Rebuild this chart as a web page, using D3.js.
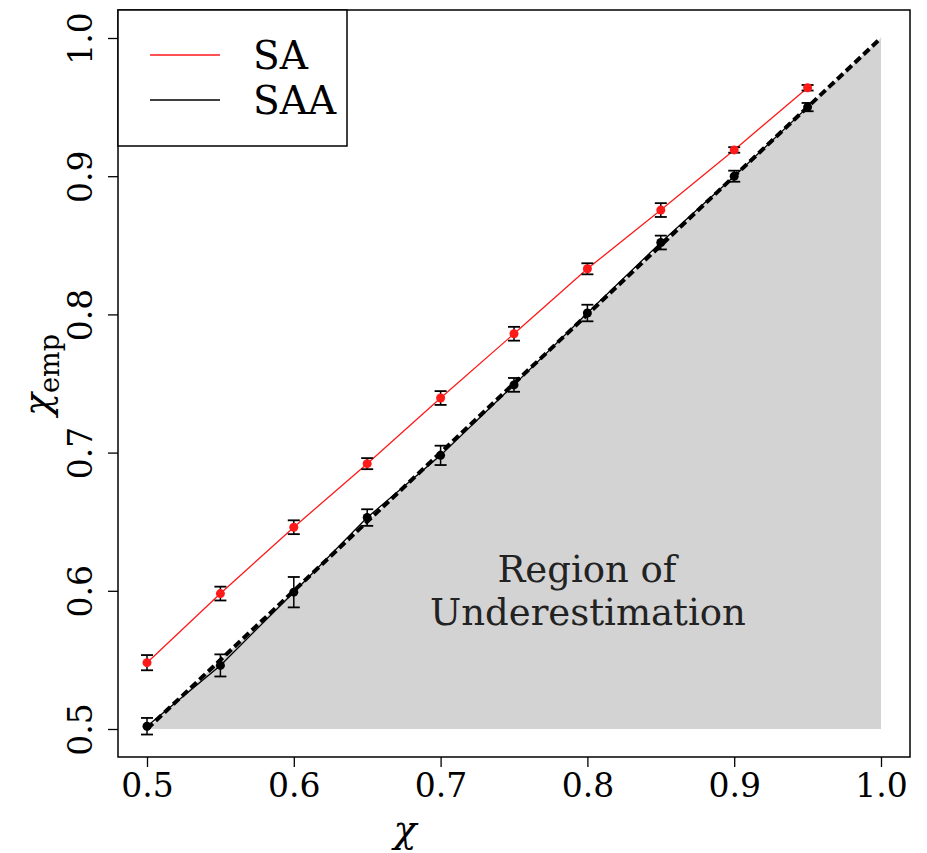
<!DOCTYPE html>
<html><head><meta charset="utf-8">
<script src="https://cdn.jsdelivr.net/npm/d3@7"></script>
<style>body{margin:0;background:#fff}</style>
</head><body>
<svg id="chart" width="927" height="853"></svg>
<script>
const chi = [0.5,0.55,0.6,0.65,0.7,0.75,0.8,0.85,0.9,0.95];
const saVals = [0.548,0.598,0.646,0.692,0.7395,0.786,0.833,0.8755,0.919,0.964];
const saErr  = [0.0055,0.005,0.005,0.004,0.005,0.005,0.004,0.005,0.002,0.002];
const saaVals = [0.502,0.546,0.599,0.653,0.698,0.749,0.801,0.852,0.900,0.950];
const saaErr  = [0.006,0.008,0.011,0.006,0.007,0.005,0.006,0.005,0.004,0.003];
const xTicks = [0.5,0.6,0.7,0.8,0.9,1.0];
const yTicks = [0.5,0.6,0.7,0.8,0.9,1.0];
const seriesNames = ["SA","SAA"];
const seriesColors = ["#ff1a1a","#000000"];

const svg = d3.select("#chart");
const font = "'DejaVu Serif','Liberation Serif',serif";
const box = {l:118, r:910, t:10, b:757};
const x = d3.scaleLinear().domain([0.5,1.0]).range([147,881]);
const y = d3.scaleLinear().domain([0.5,1.0]).range([729,38]);

// shaded region
svg.append("path")
  .attr("d", d3.line()([[x(0.5),y(0.5)],[x(1),y(1)],[x(1),y(0.5)]]) + "Z")
  .attr("fill","#d3d3d3");

// series
function drawSeries(vals, errs, color, lw){
  const pts = chi.map((c,i)=>[c, vals[i], errs[i]]);
  svg.append("path")
    .attr("d", d3.line().x(d=>x(d[0])).y(d=>y(d[1]))(pts))
    .attr("fill","none").attr("stroke",color).attr("stroke-width",lw);
  const g = svg.append("g");
  pts.forEach(d=>{
    g.append("line").attr("x1",x(d[0])).attr("x2",x(d[0]))
      .attr("y1",y(d[1]-d[2])).attr("y2",y(d[1]+d[2]))
      .attr("stroke","#000").attr("stroke-width",1.5);
    [d[1]-d[2], d[1]+d[2]].forEach(v=>{
      g.append("line").attr("x1",x(d[0])-6).attr("x2",x(d[0])+6)
        .attr("y1",y(v)).attr("y2",y(v)).attr("stroke","#000").attr("stroke-width",1.8);
    });
    g.append("circle").attr("cx",x(d[0])).attr("cy",y(d[1])).attr("r",4.5).attr("fill",color);
  });
}
drawSeries(saVals, saErr, seriesColors[0], 1.3);
drawSeries(saaVals, saaErr, seriesColors[1], 1.3);

// diagonal dashed
svg.append("line").attr("x1",x(0.5)).attr("y1",y(0.5)).attr("x2",x(1)).attr("y2",y(1))
  .attr("stroke","#000").attr("stroke-width",4).attr("stroke-dasharray","8,4");

// region text
svg.append("text").attr("x",587).attr("y",582).attr("text-anchor","middle")
  .attr("font-family",font).attr("font-size",37).attr("fill","#222").text("Region of");
svg.append("text").attr("x",588).attr("y",625).attr("text-anchor","middle")
  .attr("font-family",font).attr("font-size",37).attr("fill","#222").text("Underestimation");

// box
svg.append("rect").attr("x",box.l).attr("y",box.t).attr("width",box.r-box.l).attr("height",box.b-box.t)
  .attr("fill","none").attr("stroke","#000").attr("stroke-width",1.5);

// x axis
const xa = svg.append("g").attr("transform",`translate(0,${box.b})`)
  .call(d3.axisBottom(x).tickValues(xTicks).tickFormat(d3.format(".1f")).tickSize(10).tickSizeOuter(0));
xa.select(".domain").remove();
xa.selectAll("line").attr("stroke","#000").attr("stroke-width",1.3);
xa.selectAll("text").attr("font-family",font).attr("font-size",33).attr("fill","#000").attr("dy",null).attr("y",40);

// y axis
const ya = svg.append("g").attr("transform",`translate(${box.l},0)`)
  .call(d3.axisLeft(y).tickValues(yTicks).tickFormat(d3.format(".1f")).tickSize(10).tickSizeOuter(0));
ya.select(".domain").remove();
ya.selectAll("line").attr("stroke","#000").attr("stroke-width",1.3);
ya.selectAll("text").attr("font-family",font).attr("font-size",33).attr("fill","#000")
  .attr("x",null).attr("text-anchor","middle")
  .attr("transform","translate(-26,0) rotate(-90)").attr("y",0).attr("dy",null);

// axis labels
svg.append("text").attr("x",405).attr("y",842).attr("text-anchor","middle")
  .attr("font-family",font).attr("font-style","italic").attr("font-size",38).text("χ");
const yl = svg.append("text").attr("transform","translate(50,375) rotate(-90)").attr("text-anchor","middle")
  .attr("font-family",font).attr("font-size",38);
yl.append("tspan").attr("font-style","italic").text("χ");
yl.append("tspan").attr("font-size",27).attr("dy",9).text("emp");

// legend
svg.append("rect").attr("x",box.l).attr("y",box.t).attr("width",229).attr("height",136)
  .attr("fill","#fff").attr("stroke","#000").attr("stroke-width",1.5);
seriesNames.forEach((n,i)=>{
  const ly = 55 + i*45;
  svg.append("line").attr("x1",150).attr("x2",220).attr("y1",ly).attr("y2",ly)
    .attr("stroke",seriesColors[i]).attr("stroke-width",1.5);
  svg.append("text").attr("x",253).attr("y",ly+14).attr("font-family",font).attr("font-size",39)
    .text(n);
});
</script>
</body></html>
